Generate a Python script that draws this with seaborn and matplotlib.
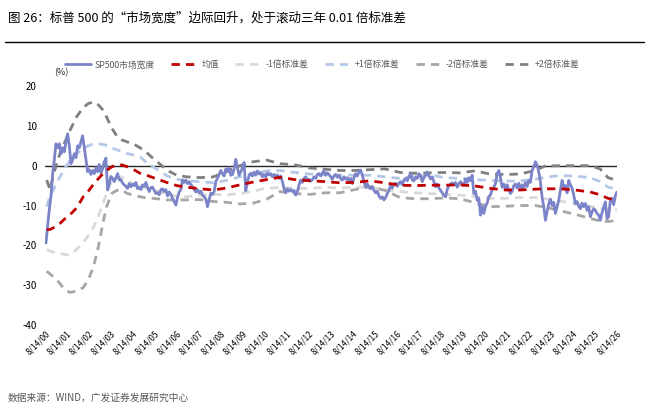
import matplotlib.pyplot as plt
import matplotlib.lines as mlines
import numpy as np
import pandas as pd
import seaborn as sns

# S&P 500 "market breadth" (%), regular sampling from 2000-08 to 2026-08
sp500_breadth = [
    -19.4, -15.0, -11.0, -7.5, -2.0, 1.5, 5.5, 4.5, 5.5, 3.0,
    4.5, 3.5, 6.0, 8.0, 5.0, 0.5, 1.5, 3.0, 2.0, 5.0,
    4.5, 6.0, 7.5, 4.5, 1.3, -1.5, -1.0, -2.2, -1.2, -2.0,
    -0.5, -1.5, 0.3, -1.8, -0.8, 1.0, 1.9, -6.1, -4.5, -2.7,
    -3.2, -4.0, -3.0, -2.0, -3.6, -3.5, -4.4, -4.8, -5.2, -5.7,
    -4.5, -5.3, -4.6, -5.0, -4.2, -5.8, -5.4, -6.0, -4.8, -5.2,
    -4.2, -5.5, -6.5, -5.5, -5.4, -6.2, -7.0, -6.8, -7.3, -6.0,
    -5.8, -6.5, -6.0, -7.6, -6.6, -7.2, -8.2, -9.0, -9.9, -8.0,
    -6.6, -6.0, -3.6, -4.2, -3.6, -4.5, -4.0, -4.8, -5.2, -6.0,
    -6.6, -6.0, -6.8, -6.4, -7.4, -7.8, -8.4, -10.3, -8.5, -6.9,
    -7.2, -6.5, -4.0, -3.2, -2.2, -1.2, -2.0, -2.6, -0.8, -1.5,
    -0.5, -2.4, -2.2, -0.8, 1.6, -0.5, -2.4, -1.5, -0.5, 0.8,
    -6.3, -4.0, -2.5, -1.9, -2.6, -1.6, -2.4, -1.3, -2.1, -1.7,
    -2.8, -2.2, -2.9, -1.8, -2.3, -2.0, -2.8, -2.2, -2.8, -2.3,
    -3.2, -2.6, -4.0, -5.8, -6.8, -5.8, -6.4, -6.0, -6.5, -6.2,
    -7.4, -6.5, -4.8, -3.6, -4.2, -3.2, -2.8, -3.6, -3.4, -3.9,
    -3.5, -2.8, -3.2, -2.2, -2.0, -2.6, -1.8, -1.3, -2.4, -1.8,
    -2.2, -2.8, -3.4, -2.6, -2.2, -2.9, -2.4, -3.3, -3.6, -2.8,
    -3.4, -3.0, -4.0, -3.2, -4.5, -3.0, -2.0, -2.6, -1.5, -1.1,
    -2.4, -4.0, -5.3, -4.6, -5.4, -5.8, -5.2, -6.2, -6.8, -6.4,
    -7.6, -8.2, -7.8, -8.6, -8.0, -7.0, -6.2, -5.0, -5.6, -4.6,
    -4.4, -5.2, -4.4, -4.0, -4.8, -3.6, -3.2, -3.8, -2.8, -2.0,
    -3.6, -3.8, -2.8, -3.2, -2.0, -2.6, -4.0, -3.0, -2.4, -1.6,
    -2.5, -3.3, -2.8, -4.0, -5.3, -4.6, -5.6, -6.2, -6.8, -7.5,
    -7.8, -6.0, -5.0, -4.6, -4.3, -4.8, -4.2, -5.4, -4.6, -4.0,
    -4.6, -5.0, -3.3, -4.2, -3.0, -3.8, -2.4, -7.0, -6.4, -8.7,
    -8.2, -12.4, -10.3, -12.0, -10.2, -9.4, -7.8, -7.3, -6.0, -5.4,
    -4.5, -2.0, -1.2, -3.0, -5.4, -4.6, -5.8, -4.8, -6.0, -7.0,
    -6.4, -5.0, -4.6, -5.6, -4.4, -6.0, -4.8, -5.5, -4.2, -5.2,
    -3.7, -4.2, -1.2, -0.3, 1.0, 0.2, -1.6, -4.0, -7.9, -10.3,
    -13.7, -11.5, -9.6, -8.4, -10.0, -9.2, -12.0, -10.4, -8.7, -6.2,
    -3.7, -5.3, -5.0, -6.8, -3.7, -4.8, -5.6, -7.4, -9.6, -9.0,
    -10.2, -10.8, -9.4, -10.3, -9.5, -11.2, -10.3, -12.8, -11.6, -10.8,
    -11.2, -12.0, -12.4, -13.7, -11.8, -10.4, -9.1, -13.3, -12.8, -8.7,
    -8.2, -9.8, -7.5, -6.6,
]

# rolling 3-year mean and +/-1, +/-2 std bands, years after 2000-08-14
band_years = [
    0.08, 0.23, 0.38, 0.53, 0.68, 0.91, 1.14, 1.44, 1.74, 1.97,
    2.20, 2.42, 2.65, 2.80, 3.03, 3.26, 3.49, 3.71, 4.01, 4.32,
    4.62, 4.92, 5.23, 5.53, 5.99, 6.44, 7.05, 7.65, 8.26, 8.86,
    9.47, 10.08, 10.68, 11.36, 12.05, 12.73, 13.41, 14.09, 14.77, 15.45,
    16.14, 16.82, 17.50, 18.18, 18.86, 19.55, 20.23, 20.91, 21.59, 22.27,
    22.73, 23.41, 24.09, 24.77, 25.23, 25.59, 26.00,
]
mean_line = [
    -16.1, -16.0, -15.6, -15.1, -14.5, -13.3, -12.3, -10.6, -7.8, -6.4,
    -4.7, -3.3, -1.9, -1.2, -0.3, 0.2, 0.2, -0.2, -0.9, -1.9,
    -2.4, -3.0, -3.6, -4.2, -5.0, -5.4, -5.8, -6.1, -5.6, -4.8,
    -4.1, -3.5, -2.9, -3.5, -3.8, -4.0, -4.3, -4.2, -3.8, -4.3,
    -4.9, -5.0, -4.9, -4.9, -4.8, -5.1, -5.7, -6.1, -6.1, -5.9,
    -5.8, -5.8, -6.1, -6.6, -7.3, -8.2, -8.7,
]
minus1_std = [
    -21.1, -21.4, -21.7, -21.9, -22.0, -22.3, -22.4, -21.0, -19.2, -17.6,
    -15.5, -12.8, -9.3, -7.0, -3.8, -3.0, -2.8, -3.6, -4.7, -5.2,
    -5.6, -6.0, -6.6, -7.2, -7.7, -7.8, -7.4, -7.2, -7.3, -7.0,
    -6.4, -5.6, -5.5, -5.7, -5.7, -5.4, -5.6, -5.4, -5.4, -6.0,
    -6.5, -6.8, -7.0, -7.2, -7.4, -7.8, -8.2, -8.2, -8.0, -8.0,
    -8.3, -8.9, -9.5, -10.2, -10.7, -10.9, -11.1,
]
plus1_std = [
    -10.3, -7.5, -6.1, -4.3, -2.8, -0.6, 1.4, 3.1, 4.3, 5.0,
    5.5, 5.5, 5.3, 5.1, 4.5, 4.0, 3.6, 3.1, 2.7, 2.2,
    0.8, -0.3, -1.4, -2.5, -3.4, -3.8, -4.0, -4.3, -3.7, -2.8,
    -2.0, -1.3, -1.2, -1.7, -2.1, -2.3, -2.4, -2.4, -2.4, -2.8,
    -3.2, -2.6, -2.3, -3.0, -3.2, -3.5, -3.7, -3.9, -3.8, -3.4,
    -2.9, -2.5, -2.6, -3.0, -4.0, -5.4, -5.8,
]
minus2_std = [
    -26.5, -27.2, -27.9, -28.6, -29.6, -31.2, -31.8, -31.5, -30.6, -28.6,
    -25.5, -20.5, -14.0, -10.3, -7.0, -6.2, -6.0, -6.9, -7.4, -7.8,
    -8.1, -8.2, -8.4, -8.6, -8.6, -8.6, -8.5, -9.0, -9.2, -9.6,
    -9.4, -8.4, -6.5, -7.0, -7.2, -6.8, -6.8, -6.0, -5.3, -6.2,
    -8.0, -8.3, -8.3, -8.1, -8.3, -9.3, -10.3, -10.2, -10.0, -10.0,
    -10.4, -11.3, -12.2, -13.2, -13.9, -14.0, -13.8,
]
plus2_std = [
    -3.6, -6.0, -2.5, 0.5, 3.0, 6.0, 8.9, 12.3, 14.6, 15.6,
    16.0, 15.3, 13.9, 12.2, 9.5, 7.5, 6.5, 6.0, 5.5, 4.5,
    3.3, 1.8, 0.4, -1.1, -2.4, -2.8, -3.0, -2.8, -1.5, 0.0,
    1.0, 1.4, 0.5, 0.2, -0.6, -0.9, -1.2, -1.2, -1.0, -0.8,
    -1.7, -1.9, -1.8, -1.7, -1.8, -1.3, -2.1, -2.2, -2.1, -1.2,
    -0.1, 0.0, 0.0, 0.0, -0.8, -3.0, -3.7,
]

tick_years = list(range(2000, 2027))
tick_labels = [f"8/14/{y % 100:02d}" for y in tick_years]

title = "图 26：标普 500 的“市场宽度”边际回升，处于滚动三年 0.01 倍标准差"
source = "数据来源：WIND，广发证券发展研究中心"

sns.set_theme(style="white")
plt.rcParams["font.family"] = ["Noto Sans CJK SC", "DejaVu Sans"]
plt.rcParams["axes.unicode_minus"] = False

start = pd.Timestamp("2000-08-14")
end = pd.Timestamp("2026-08-14")
breadth = pd.DataFrame({
    "date": pd.date_range("2000-08-31", end, periods=len(sp500_breadth)),
    "value": sp500_breadth,
})
bands = pd.DataFrame({
    "date": start + pd.to_timedelta(np.array(band_years) * 365.25, unit="D"),
    "mean": mean_line,
    "m1": minus1_std,
    "p1": plus1_std,
    "m2": minus2_std,
    "p2": plus2_std,
})

fig = plt.figure(figsize=(6.49, 4.19), dpi=100)
ax = fig.add_axes([0.0693, 0.2243, 0.8814, 0.5704])

dash = (0, (3, 2.2))
band_styles = [
    ("m1", "#d9d9d9", "-1倍标准差"),
    ("p1", "#b4c7e7", "+1倍标准差"),
    ("m2", "#a6a6a6", "-2倍标准差"),
    ("p2", "#7f7f7f", "+2倍标准差"),
]
for col, color, _ in band_styles:
    sns.lineplot(data=bands, x="date", y=col, color=color, linewidth=2,
                 linestyle=dash, ax=ax, zorder=2)

sns.lineplot(data=breadth, x="date", y="value", color="#7b83c9", linewidth=2,
             ax=ax, zorder=3)
sns.lineplot(data=bands, x="date", y="mean", color="#c00000", linewidth=2,
             linestyle=dash, ax=ax, zorder=4)

ax.axhline(0, color="#262626", linewidth=1, zorder=1)

ax.set_xlim(start, end)
ax.set_ylim(-40, 20)
ax.set_yticks([-40, -30, -20, -10, 0, 10, 20])
ax.set_xticks([pd.Timestamp(f"{y}-08-14") for y in tick_years])
ax.set_xticklabels(tick_labels)
ax.tick_params(axis="y", labelsize=7, length=0, pad=6, labelcolor="#000000")
ax.tick_params(axis="x", labelsize=6, length=0, pad=3, labelcolor="#000000")
plt.setp(ax.get_xticklabels(), rotation=45, ha="right", rotation_mode="anchor")
ax.set_xlabel("")
ax.set_ylabel("")
for spine in ax.spines.values():
    spine.set_visible(False)

handles = [mlines.Line2D([], [], color="#7b83c9", linewidth=2, label="SP500市场宽度"),
           mlines.Line2D([], [], color="#c00000", linewidth=2, linestyle=dash, label="均值")]
for _, color, label in band_styles:
    handles.append(mlines.Line2D([], [], color=color, linewidth=2, linestyle=dash, label=label))
fig.legend(handles=handles, loc="center left", bbox_to_anchor=(0.088, 0.845), ncol=6,
           frameon=False, fontsize=6.3, handlelength=3.0, handletextpad=0.4,
           columnspacing=1.9, labelcolor="#595959")

fig.text(0.095, 0.826, "(%)", fontsize=6.5, ha="center", va="center")
fig.text(0.012, 0.957, title, fontsize=9, ha="left", va="center", color="#000000")
fig.add_artist(mlines.Line2D([0.008, 0.992], [0.90, 0.90], color="#000000", linewidth=1,
                             transform=fig.transFigure))
fig.text(0.012, 0.05, source, fontsize=7, ha="left", va="center", color="#595959")

fig.savefig("out.png", dpi=100)
